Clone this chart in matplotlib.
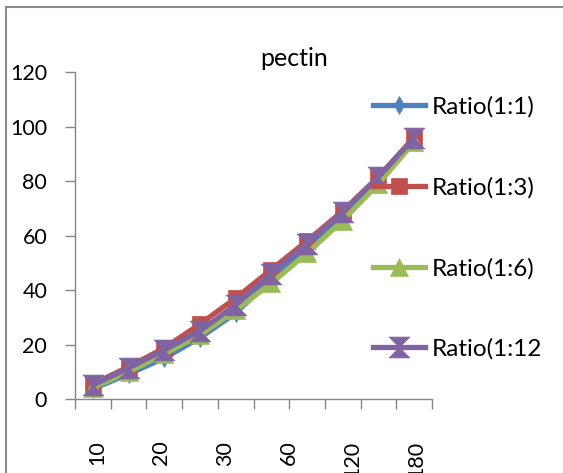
import numpy as np
import matplotlib
matplotlib.use("Agg")
import matplotlib.pyplot as plt
from matplotlib.path import Path
from matplotlib.lines import Line2D
from matplotlib.transforms import Bbox, TransformedBbox

# ---- data ----
categories = ["10", "15", "20", "25", "30", "45", "60", "90", "120", "180"]
tick_labels = ["10", "20", "30", "60", "120", "180"]
series_names = ["Ratio(1:1)", "Ratio(1:3)", "Ratio(1:6)", "Ratio(1:12)"]
ratio_1_1 = [3.7, 9.2, 15.0, 22.5, 31.5, 44.0, 55.5, 67.0, 80.0, 95.0]
ratio_1_3 = [5.5, 11.8, 18.7, 27.5, 37.0, 47.5, 58.0, 69.0, 81.5, 96.0]
ratio_1_6 = [4.2, 10.0, 16.5, 23.5, 32.5, 42.5, 53.5, 65.5, 79.0, 94.3]
ratio_1_12 = [5.1, 11.4, 18.0, 25.0, 34.5, 46.0, 57.0, 68.6, 81.5, 95.8]
title = "pectin"

plt.rcParams["font.family"] = ["Lato", "DejaVu Sans"]

W, H = 563, 473
fig = plt.figure(figsize=(W / 100, H / 100), dpi=100)
ax = fig.add_axes([75 / W, 1 - 399 / H, (432 - 75) / W, (399 - 72) / H])

grey = "#868686"
hourglass = Path([(-1, 1), (1, 1), (0, 0), (1, -1), (-1, -1), (0, 0), (-1, 1)],
                 [Path.MOVETO, Path.LINETO, Path.LINETO, Path.LINETO, Path.LINETO,
                  Path.LINETO, Path.CLOSEPOLY])

styles = [
    dict(color="#4F81BD", marker="d", ms=9),
    dict(color="#C0504D", marker="s", ms=12),
    dict(color="#9BBB59", marker="^", ms=13),
    dict(color="#8064A2", marker=hourglass, ms=15),
]
x = np.arange(1, len(categories) + 1)
handles = []
for vals, name, st in zip([ratio_1_1, ratio_1_3, ratio_1_6, ratio_1_12], series_names, styles):
    h, = ax.plot(x, vals, color=st["color"], lw=3.8, marker=st["marker"],
                 ms=st["ms"], mfc=st["color"], mec=st["color"], mew=0.5,
                 label=name, clip_on=False)
    handles.append(h)

ax.set_xlim(0.5, len(categories) + 0.5)
ax.set_ylim(0, 120)
ax.set_yticks(np.arange(0, 121, 20))
ax.set_xticks(np.arange(0.5, len(categories) + 1, 1.0))
ax.set_xticklabels([])
label_pos = np.linspace(1.12, 10.07, len(tick_labels))
ax.set_xticks(label_pos, minor=True)
ax.set_xticklabels(tick_labels, minor=True, rotation=90, fontsize=15.5)
ax.tick_params(axis="x", which="minor", length=0, pad=30)
ax.tick_params(axis="x", which="major", length=7, width=1, color=grey, direction="out")
ax.tick_params(axis="y", length=7, width=1, color=grey, direction="out", pad=13, labelsize=15.5)
for s in ["top", "right"]:
    ax.spines[s].set_visible(False)
for s in ["left", "bottom"]:
    ax.spines[s].set_color(grey)
    ax.spines[s].set_linewidth(1)

fig.text(294 / W, 1 - 58 / H, title, ha="center", va="center", fontsize=18)

leg = fig.legend(handles=handles, loc="upper left", bbox_to_anchor=(373 / W, 1 - 96 / H),
                 frameon=False, fontsize=17.5, labelspacing=2.44, handlelength=2.14,
                 handletextpad=0.29, borderpad=0, borderaxespad=0)
clip = TransformedBbox(Bbox([[0, 0], [540 / W, 1]]), fig.transFigure)
for t in leg.get_texts():
    t.set_clip_box(clip)
    t.set_clip_on(True)

# outer chart border (extends beyond image on right/bottom)
fig.add_artist(Line2D([6 / W, 6 / W], [-0.1, 1 - 7 / H], transform=fig.transFigure, color="#8c8c8c", lw=1.5))
fig.add_artist(Line2D([6 / W, 1.1], [1 - 7 / H, 1 - 7 / H], transform=fig.transFigure, color="#8c8c8c", lw=1.5))

fig.savefig("out.png", dpi=100)
